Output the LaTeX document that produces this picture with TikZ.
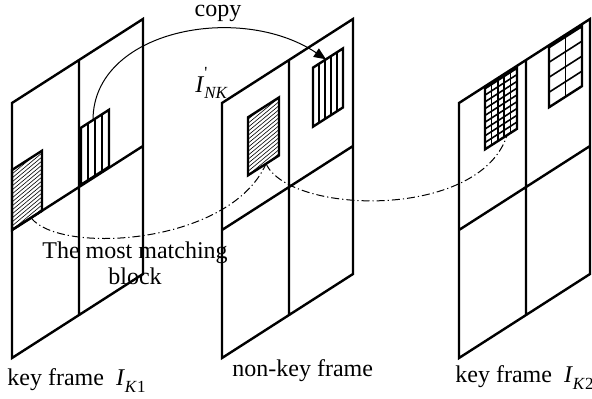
\documentclass[tikz,border=0pt]{standalone}
\usepackage{fontspec}
\setmainfont{Liberation Serif}
\usetikzlibrary{arrows.meta}

\newcommand{\frameid}[2]{\textit{I}\raisebox{-3.5pt}{\fontsize{8.5}{9}\selectfont\textit{#1}#2}}

\begin{document}
\begin{tikzpicture}[x=0.5pt,y=-0.5pt,
    frame/.style={line width=1.2pt},
    blk/.style={line width=1.2pt},
    stripe/.style={line width=0.8pt},
    hatchline/.style={line width=0.3pt},
    link/.style={line width=0.5pt,dash pattern=on 4pt off 1.5pt on 0.6pt off 1.5pt},
    lbl/.style={font=\fontsize{12}{13}\selectfont,inner sep=0pt}]
  \useasboundingbox (0,0) rectangle (592,399);
  % three frames, drawn slanted
  \foreach \fx in {12,222,459}
    \draw[frame,shift={(\fx,358)},yslant=0.6412]
      (0,0) rectangle (131,-255) (67,0) -- (67,-255) (0,-128) -- (131,-128);
  \begin{scope}[shift={(12,358)},yslant=0.6412]
    \begin{scope}[shift={(0,-128)}]
      \begin{scope}
        \clip (0,0) rectangle (30,-60);
        \foreach \c in {0,4,...,72}
          \draw[hatchline] (0,8-\c) -- (31,2-\c);
      \end{scope}
      \draw[blk] (0,0) rectangle (30,-60);
      \coordinate (m1) at (19,0);
    \end{scope}
    \begin{scope}[shift={(69,-129)}]
      \foreach \i in {7,14,21}
        \draw[stripe] (\i,0) -- (\i,-57);
      \draw[blk] (0,0) rectangle (28,-57);
      \coordinate (c1) at (12,-57);
    \end{scope}
  \end{scope}
  \begin{scope}[shift={(222,358)},yslant=0.6412]
    \begin{scope}[shift={(26,-166)}]
      \begin{scope}
        \clip (0,0) rectangle (31,-58);
        \foreach \c in {0,4,...,72}
          \draw[hatchline] (0,8-\c) -- (32,2-\c);
      \end{scope}
      \draw[blk] (0,0) rectangle (31,-58);
      \coordinate (m2) at (18,0);
    \end{scope}
    \begin{scope}[shift={(91,-173)}]
      \foreach \i in {6,12,18,24}
        \draw[stripe] (\i,0) -- (\i,-59);
      \draw[blk] (0,0) rectangle (30,-59);
      \coordinate (c2) at (13,-59);
    \end{scope}
  \end{scope}
  \begin{scope}[shift={(459,358)},yslant=0.6412]
    \begin{scope}[shift={(26,-192)}]
      \foreach \i in {1,...,4}
        \draw[stripe] (6.4*\i,0) -- (6.4*\i,-61);
      \foreach \j in {1,...,8}
        \draw[stripe] (0,-6.78*\j) -- (32,-6.78*\j);
      \draw[blk] (0,0) rectangle (32,-61);
      \coordinate (m3) at (22,0);
    \end{scope}
    \begin{scope}[shift={(90,-193)}]
      \draw[stripe] (16.5,0) -- (16.5,-60);
      \foreach \j in {1,2,3}
        \draw[stripe] (0,-15*\j) -- (33,-15*\j);
      \draw[blk] (0,0) rectangle (33,-60);
    \end{scope}
  \end{scope}
  % copy arrow and matching links
  \draw[line width=0.5pt,-{Triangle[length=6pt,width=5pt]}]
    (c1) .. controls (93,30) and (240,2) .. (c2);
  \draw[link] (m1) .. controls (60,255) and (230,245) .. (m2);
  \draw[link] (m2) .. controls (290,215) and (480,220) .. (m3);
  % labels
  \node[lbl,anchor=base] (cp) at (218,17) {copy};
  \node[lbl,anchor=base west] (ink) at (195,93)
    {\textit{I}\rlap{\raisebox{7pt}{\fontsize{8.5}{9}\selectfont\textquotesingle}}\raisebox{-3pt}{\fontsize{8.5}{9}\selectfont\textit{NK}}};
  \node[lbl,anchor=north,align=center] (mb) at (135,241) {The most matching\\block};
  \node[lbl,anchor=base west] (k1) at (7,386) {key frame\ \ \frameid{K}{1}};
  \node[lbl,anchor=base west] (nk) at (232,377) {non-key frame};
  \node[lbl,anchor=base west] (k2) at (455,382) {key frame\ \ \frameid{K}{2}};
\end{tikzpicture}
\end{document}
